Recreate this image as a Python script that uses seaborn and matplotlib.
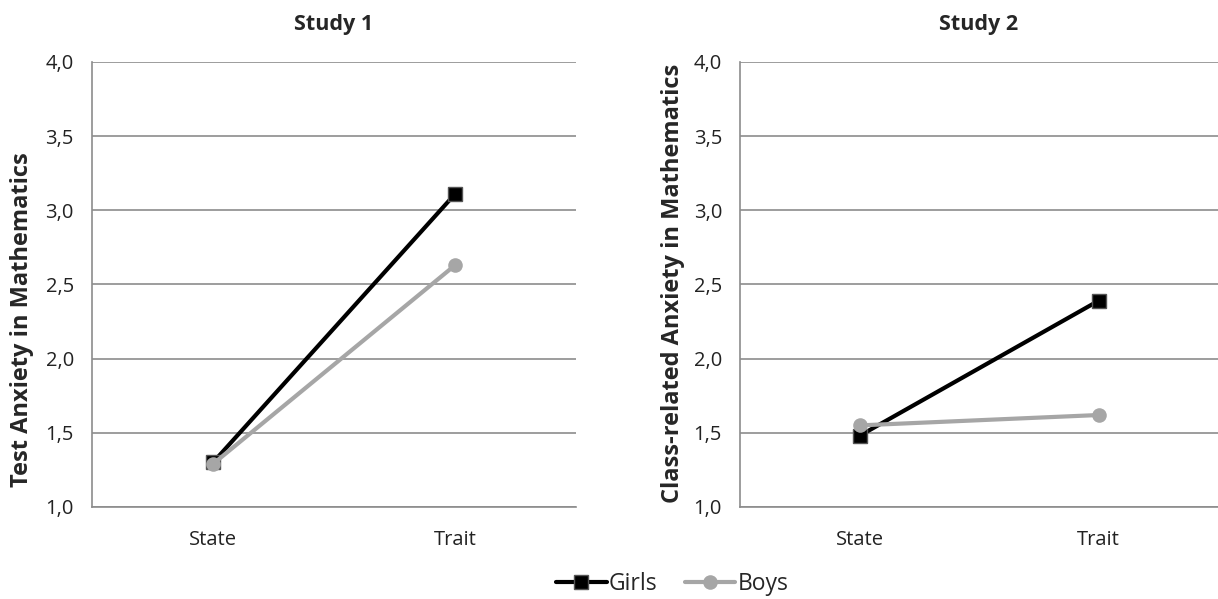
import numpy as np
import pandas as pd
import matplotlib.pyplot as plt
import seaborn as sns

# values
conditions = ["State", "Trait"]
groups = ["Girls", "Boys"]
study1_girls = [1.30, 3.11]
study1_boys = [1.29, 2.63]
study2_girls = [1.48, 2.39]
study2_boys = [1.55, 1.62]
yticks = [1.0, 1.5, 2.0, 2.5, 3.0, 3.5, 4.0]

sns.set_style("white")
plt.rcParams['font.family'] = ['Open Sans', 'DejaVu Sans']

def make_df(girls, boys):
    rows = []
    for g, vals in zip(groups, [girls, boys]):
        for i, (c, v) in enumerate(zip(conditions, vals)):
            rows.append({"pos": i, "condition": c, "group": g, "value": v})
    return pd.DataFrame(rows)

palette = {"Girls": "black", "Boys": "#a6a6a6"}
markers = {"Girls": "s", "Boys": "o"}
grid_col = "#8c8c8c"

fig = plt.figure(figsize=(12.18, 5.99), dpi=100)
ax1 = fig.add_axes([0.0755, 0.1536, 0.3975, 0.743])
ax2 = fig.add_axes([0.6076, 0.1536, 0.3924, 0.743])

panels = [
    (ax1, make_df(study1_girls, study1_boys), "Study 1",
     "Test Anxiety in Mathematics", (-0.12, 0.42)),
    (ax2, make_df(study2_girls, study2_boys), "Study 2",
     "Class-related Anxiety in Mathematics", (-0.115, 0.503)),
]

for ax, df, title, ylabel, lab_xy in panels:
    sns.lineplot(data=df, x="pos", y="value", hue="group", style="group",
                 palette=palette, markers=markers, dashes=False,
                 linewidth=3, markersize=10.5, markeredgewidth=0,
                 ax=ax, legend=(ax is ax1), zorder=3)
    # dark grey outline on the squares only
    for line in ax.get_lines():
        if line.get_marker() == "s":
            line.set_markeredgecolor("#555555")
            line.set_markeredgewidth(1.0)
    ax.set_xlim(-0.5, 1.5)
    ax.set_ylim(1.0, 4.0)
    ax.set_xticks(range(len(conditions)))
    ax.set_xticklabels(conditions, fontsize=14.5)
    ax.set_yticks(yticks)
    ax.set_yticklabels([f"{t:.1f}".replace(".", ",") for t in yticks], fontsize=14.5)
    ax.yaxis.grid(True, color=grid_col, linewidth=1.2)
    ax.set_axisbelow(True)
    for s in ["top", "right"]:
        ax.spines[s].set_visible(False)
    for s in ["left", "bottom"]:
        ax.spines[s].set_color(grid_col)
        ax.spines[s].set_linewidth(1.2)
    ax.tick_params(axis="y", length=0, pad=13, colors="#222222")
    ax.tick_params(axis="x", length=0, pad=16.5, colors="#222222")
    ax.set_xlabel("")
    ax.set_ylabel(ylabel, fontsize=17, fontweight="bold")
    ax.yaxis.set_label_coords(*lab_xy)
    ax.set_title(title, fontsize=15.5, fontweight="bold", pad=23)

handles, labels = ax1.get_legend_handles_labels()
for h in handles:
    if h.get_marker() == "s":
        h.set_markeredgecolor("#555555")
        h.set_markeredgewidth(1.0)
    else:
        h.set_markeredgewidth(0)
ax1.get_legend().remove()
fig.legend(handles, labels, loc="lower center", ncol=2, frameon=False,
           fontsize=16.5, bbox_to_anchor=(0.552, -0.03), handlelength=2.2,
           handletextpad=0.1, columnspacing=1.2)

fig.savefig("out.png", dpi=100)
